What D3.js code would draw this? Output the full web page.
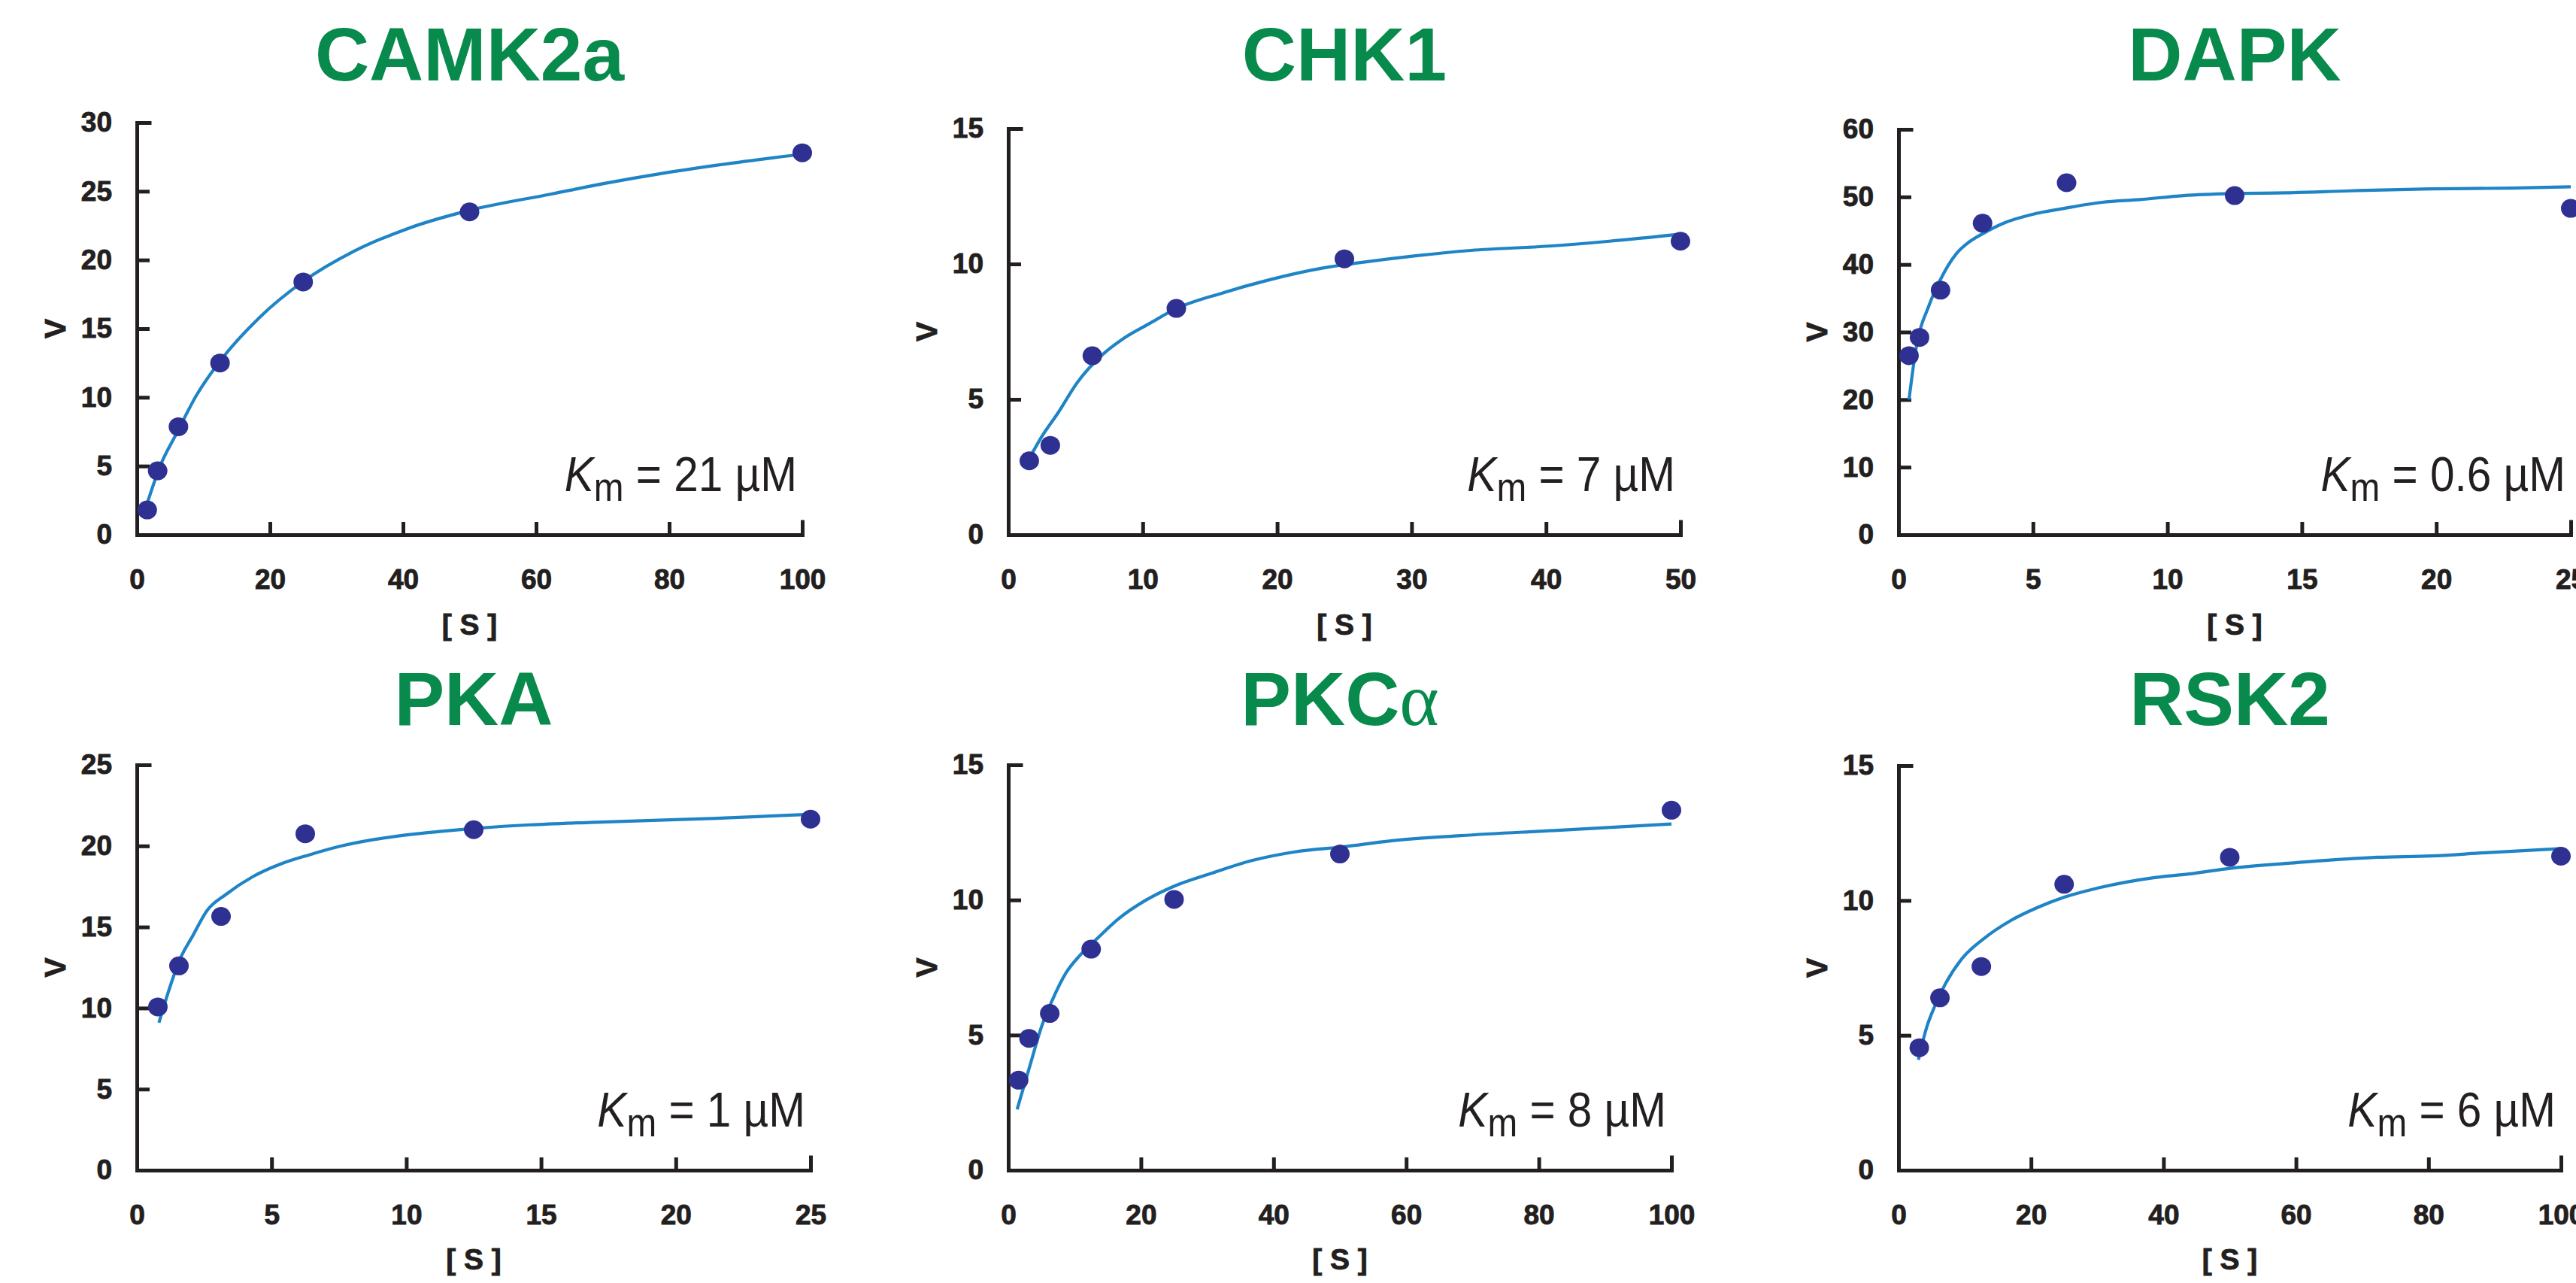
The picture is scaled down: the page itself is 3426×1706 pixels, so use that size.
<!DOCTYPE html>
<html>
<head>
<meta charset="utf-8">
<style>
    body { margin: 0; background: #fff; }
    svg { display: block; }
    .title {
        font-family: "Liberation Sans", Arial, sans-serif;
        font-weight: bold;
        font-size: 100px;
        fill: #078a4b;
    }
    .title .greek {
        font-family: "Liberation Serif", "Times New Roman", serif;
        font-weight: normal;
    }
    .axis text {
        font-family: "Liberation Sans", Arial, sans-serif;
        font-weight: bold;
        font-size: 37px;
        fill: #231f20;
        stroke: #231f20;
        stroke-width: 0.9px;
    }
    .axis path, .axis line {
        stroke: #231f20;
        stroke-width: 5px;
    }
    .axis path { stroke-linecap: square; }
    .label {
        font-family: "Liberation Sans", Arial, sans-serif;
        font-weight: bold;
        font-size: 39px;
        fill: #231f20;
        stroke: #231f20;
        stroke-width: 0.9px;
    }
    .km {
        font-family: "Liberation Sans", Arial, sans-serif;
        font-size: 65px;
        fill: #231f20;
    }
    .fit {
        fill: none;
        stroke: #1f84c6;
        stroke-width: 4.2px;
    }
    .pt { fill: #2e3192; }
</style>
</head>
<body>
<div id="chart"></div>
<script src="https://cdn.jsdelivr.net/npm/d3@7"></script>
<script>

    // measured points [S, v]
    var camkPoints = [[1.5625, 1.8], [3.125, 4.65], [6.25, 7.86], [12.5, 12.5], [25, 18.4], [50, 23.5], [100, 27.8]];
    var chk1Points = [[1.5625, 2.73], [3.125, 3.3], [6.25, 6.61], [12.5, 8.36], [25, 10.19], [50, 10.84]];
    var dapkPoints = [[0.39, 26.5], [0.78, 29.2], [1.5625, 36.2], [3.125, 46.1], [6.25, 52.1], [12.5, 50.2], [25, 48.3]];
    var pkaPoints = [[0.78, 10.07], [1.5625, 12.6], [3.125, 15.65], [6.25, 20.75], [12.5, 21.0], [25, 21.65]];
    var pkcPoints = [[1.5625, 3.33], [3.125, 4.88], [6.25, 5.8], [12.5, 8.18], [25, 10.02], [50, 11.7], [100, 13.32]];
    var rsk2Points = [[3.125, 4.54], [6.25, 6.39], [12.5, 7.55], [25, 10.6], [50, 11.6], [100, 11.64]];

    // fitted curves
    var camkFit = [[1.5, 2.2], [3.5, 5.0], [6.0, 7.4], [8.9, 10.1], [12.6, 12.7], [18.4, 15.8], [24.9, 18.4],
        [32.5, 20.6], [40.8, 22.3], [49.9, 23.6], [62.3, 24.8], [70.6, 25.6], [78.9, 26.3], [87.2, 26.9], [100, 27.7]];
    var chk1Fit = [[1.6, 2.85], [2.46, 3.6], [3.7, 4.5], [5.1, 5.6], [7.0, 6.65], [8.6, 7.26], [10.5, 7.8],
        [12.4, 8.33], [16, 8.94], [19.3, 9.4], [23.4, 9.85], [26.2, 10.05], [30.3, 10.3], [34.4, 10.5],
        [40.2, 10.66], [44.7, 10.84], [50, 11.1]];
    var dapkFit = [[0.39, 20], [0.64, 27.3], [1.14, 34.0], [1.5, 37.3], [2.15, 41.6], [2.55, 43.1], [3.15, 44.6],
        [3.96, 46.2], [4.96, 47.4], [6.16, 48.3], [7.57, 49.2], [8.97, 49.6], [10.6, 50.2], [12.5, 50.5],
        [14.4, 50.6], [16.8, 50.9], [19.8, 51.2], [22.8, 51.3], [25, 51.5]];
    var pkaFit = [[0.82, 9.1], [1.17, 11.0], [1.57, 12.9], [2.09, 14.5], [2.6, 16.0], [3.3, 17.0], [4.3, 18.1],
        [5.36, 18.9], [6.4, 19.45], [7.6, 20.0], [8.83, 20.4], [9.65, 20.6], [11.3, 20.9], [12.7, 21.1],
        [14.6, 21.3], [16.8, 21.45], [21.5, 21.7], [25, 21.95]];
    var pkcFit = [[1.33, 2.25], [3.3, 3.9], [5.0, 5.3], [6.65, 6.3], [8.7, 7.3], [10.8, 7.95], [13.3, 8.55],
        [16.6, 9.3], [20.8, 10.0], [24.9, 10.5], [30.8, 11.0], [36.6, 11.45], [43.2, 11.78], [50.7, 11.97],
        [57.4, 12.18], [68.2, 12.38], [82.3, 12.57], [100, 12.81]];
    var rsk2Fit = [[3.0, 4.09], [4.2, 5.26], [5.5, 6.1], [7.1, 6.92], [9.5, 7.82], [12.8, 8.57], [16.9, 9.25],
        [20.9, 9.73], [25.0, 10.12], [29.9, 10.45], [38.1, 10.83], [43.8, 10.98], [50.3, 11.2], [60, 11.4],
        [72.3, 11.6], [80.4, 11.65], [88.6, 11.77], [100, 11.92]];

    var titles = ["CAMK2a", "CHK1", "DAPK", "PKA", "PKC", "RSK2"];
    var kmValues = ["21", "7", "0.6", "1", "8", "6"];
    var xMax = [100, 50, 25, 25, 100, 100];
    var yMax = [30, 15, 60, 25, 15, 15];
    var xTicks100 = [0, 20, 40, 60, 80, 100];
    var xTicks50 = [0, 10, 20, 30, 40, 50];
    var xTicks25 = [0, 5, 10, 15, 20, 25];
    var yTicks30 = [0, 5, 10, 15, 20, 25, 30];
    var yTicks15 = [0, 5, 10, 15];
    var yTicks60 = [0, 10, 20, 30, 40, 50, 60];
    var yTicks25 = [0, 5, 10, 15, 20, 25];

    var width = 3426, height = 1706;

    // plot boxes
    var boxes = [
        {left: 182, right: 1067, top: 163, bottom: 711, titleY: 107, labelY: 844},
        {left: 1341, right: 2235, top: 171, bottom: 711, titleY: 107, labelY: 844},
        {left: 2525, right: 3419, top: 172, bottom: 711, titleY: 107, labelY: 844},
        {left: 182, right: 1078, top: 1017, bottom: 1556, titleY: 964, labelY: 1688},
        {left: 1341, right: 2223, top: 1017, bottom: 1556, titleY: 964, labelY: 1688},
        {left: 2525, right: 3406, top: 1018, bottom: 1556, titleY: 964, labelY: 1688}
    ];

    var panels = [
        {points: camkPoints, fit: camkFit, xTicks: xTicks100, yTicks: yTicks30},
        {points: chk1Points, fit: chk1Fit, xTicks: xTicks50, yTicks: yTicks15},
        {points: dapkPoints, fit: dapkFit, xTicks: xTicks25, yTicks: yTicks60},
        {points: pkaPoints, fit: pkaFit, xTicks: xTicks25, yTicks: yTicks25},
        {points: pkcPoints, fit: pkcFit, xTicks: xTicks100, yTicks: yTicks15},
        {points: rsk2Points, fit: rsk2Fit, xTicks: xTicks100, yTicks: yTicks15}
    ];

    var svg = d3.select("#chart").append("svg")
        .attr("width", width)
        .attr("height", height);

    var kmScaleX = 0.9;

    panels.forEach(function (p, i) {
        var b = boxes[i];
        var x = d3.scaleLinear().domain([0, xMax[i]]).range([b.left, b.right]);
        var y = d3.scaleLinear().domain([0, yMax[i]]).range([b.bottom, b.top]);
        var g = svg.append("g");

        // title
        var t = g.append("text")
            .attr("class", "title")
            .attr("x", (b.left + b.right) / 2)
            .attr("y", b.titleY)
            .attr("text-anchor", "middle")
            .text(titles[i]);
        if (titles[i] === "PKC") {
            t.append("tspan").attr("class", "greek").text("\u03b1");
        }

        g.append("g")
            .attr("class", "axis")
            .attr("transform", "translate(0," + b.bottom + ")")
            .call(d3.axisBottom(x).tickValues(p.xTicks).tickSize(-17).tickPadding(46));

        g.append("g")
            .attr("class", "axis")
            .attr("transform", "translate(" + b.left + ",0)")
            .call(d3.axisLeft(y).tickValues(p.yTicks).tickSize(-17).tickPadding(33));

        g.selectAll(".axis .domain").attr("fill", "none");

        // axis labels
        g.append("text")
            .attr("class", "label")
            .attr("text-anchor", "middle")
            .attr("x", (b.left + b.right) / 2)
            .attr("y", b.labelY)
            .attr("xml:space", "preserve")
            .text("[ S ]");

        g.append("text")
            .attr("class", "label")
            .attr("text-anchor", "middle")
            .attr("transform", "translate(" + (b.left - 95) + "," + ((b.top + b.bottom) / 2) + ") rotate(-90)")
            .text("V");

        // fit line
        g.append("path")
            .datum(p.fit)
            .attr("class", "fit")
            .attr("d", d3.line()
                .x(function (d) { return x(d[0]); })
                .y(function (d) { return y(d[1]); })
                .curve(d3.curveMonotoneX));

        g.selectAll("ellipse.pt")
            .data(p.points)
            .enter()
            .append("ellipse")
            .attr("class", "pt")
            .attr("rx", 13)
            .attr("ry", 12.5)
            .attr("cx", function (d) { return x(d[0]); })
            .attr("cy", function (d) { return y(d[1]); });

        // Km annotation, slightly condensed
        var km = g.append("text")
            .attr("class", "km")
            .attr("text-anchor", "end")
            .attr("transform", "translate(" + (b.right - 7) + "," + (b.bottom - 58) + ") scale(" + kmScaleX + ",1)");
        km.append("tspan").style("font-style", "italic").text("K");
        km.append("tspan").attr("dy", 13).style("font-size", "53px").text("m");
        km.append("tspan").attr("dy", -13).text(" = " + kmValues[i] + " \u00b5M");
    });

</script>
</body>
</html>
